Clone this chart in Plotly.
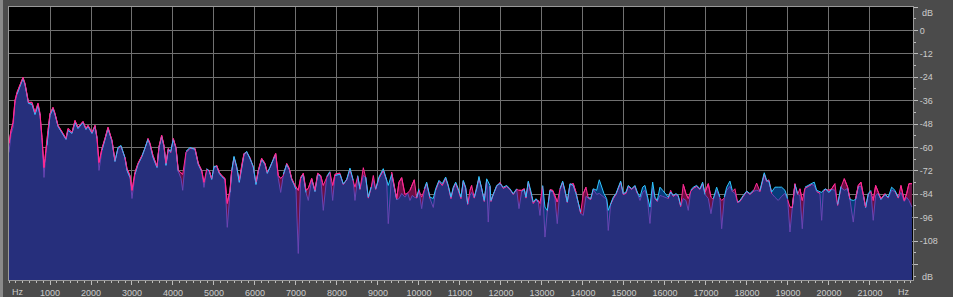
import numpy as np
import plotly.graph_objects as go

# Frequency (Hz) of each sampled spectrum point
freq_hz = [0, 49, 98, 146, 195, 268, 341, 390, 439, 475, 561, 634, 707, 756, 805, 829, 854, 878, 927, 951,
           1000, 1073, 1122, 1195, 1317, 1390, 1439, 1537, 1610, 1683, 1805, 1878, 1927, 2024, 2098, 2146, 2195,
           2268, 2341, 2415, 2512, 2585, 2659, 2732, 2829, 2878, 2951, 3000, 3073, 3146, 3244, 3317, 3390, 3439,
           3512, 3610, 3659, 3724, 3780, 3829, 3885, 3944, 4007, 4073, 4129, 4195, 4237, 4317, 4415, 4537, 4617,
           4700, 4756, 4822, 4885, 4944, 5000, 5066, 5129, 5188, 5268, 5324, 5390, 5432, 5488, 5554, 5617, 5676,
           5732, 5798, 5878, 5959, 6024, 6080, 6163, 6244, 6300, 6366, 6446, 6505, 6568, 6627, 6690, 6773, 6836,
           6895, 6951, 7000, 7056, 7115, 7178, 7244, 7300, 7383, 7463, 7529, 7602, 7666, 7749, 7829, 7895, 7951,
           8032, 8073, 8154, 8236, 8317, 8398, 8439, 8505, 8561, 8642, 8701, 8764, 8830, 8886, 8944, 9024, 9129,
           9212, 9251, 9334, 9397, 9456, 9512, 9578, 9658, 9724, 9780, 9837, 9885, 9944, 10000, 10066, 10129,
           10188, 10268, 10349, 10407, 10488, 10568, 10651, 10715, 10780, 10837, 10895, 10959, 11024, 11080,
           11139, 11188, 11244, 11285, 11349, 11407, 11463, 11529, 11593, 11651, 11690, 11732, 11756, 11812,
           11895, 11976, 12056, 12139, 12217, 12300, 12383, 12439, 12505, 12568, 12610, 12666, 12724, 12788,
           12854, 12910, 12951, 13017, 13073, 13129, 13195, 13261, 13317, 13373, 13439, 13505, 13561, 13617,
           13683, 13763, 13829, 13885, 13944, 14007, 14073, 14129, 14188, 14251, 14334, 14398, 14456, 14512,
           14578, 14617, 14676, 14739, 14805, 14861, 14920, 14983, 15049, 15105, 15188, 15268, 15324, 15390,
           15456, 15512, 15568, 15634, 15700, 15756, 15812, 15878, 15944, 16000, 16080, 16139, 16202, 16268,
           16324, 16383, 16446, 16512, 16568, 16627, 16690, 16773, 16854, 16919, 16976, 17057, 17122, 17178,
           17261, 17341, 17383, 17446, 17505, 17585, 17642, 17707, 17773, 17829, 17910, 17993, 18073, 18154,
           18236, 18317, 18422, 18480, 18536, 18602, 18683, 18763, 18846, 18927, 18993, 19049, 19105, 19170,
           19236, 19293, 19349, 19414, 19495, 19578, 19641, 19700, 19780, 19822, 19861, 19920, 20000, 20066,
           20146, 20212, 20293, 20373, 20456, 20512, 20593, 20651, 20715, 20780, 20837, 20895, 20959, 21024,
           21080, 21139, 21202, 21268, 21366, 21446, 21529, 21610, 21690, 21756, 21837, 21895, 21951, 22024]

# Left channel level (dB) - magenta
left_db = [-57.9, -51.3, -47.2, -35.9, -31.8, -28.2, -24.1, -27.2, -32.3, -36.9, -36.9, -42.1, -37.4, -42.6,
           -54.9, -65.6, -70.3, -65.6, -57.9, -51.3, -42.6, -39.5, -42.6, -48.7, -52.8, -55.4, -50.3, -52.3,
           -46.2, -49.7, -46.7, -50.3, -48.7, -52.3, -48.7, -54.9, -67.7, -60.5, -55.4, -49.7, -56.4, -66.7,
           -60.5, -59.5, -65.1, -70.8, -74.4, -82.0, -72.8, -68.2, -64.1, -60.5, -55.4, -57.9, -64.1, -69.7,
           -59.5, -53.8, -59.0, -68.2, -60.5, -62.6, -55.4, -60.0, -71.8, -72.8, -73.8, -62.6, -60.5, -60.5,
           -68.2, -71.8, -77.9, -71.3, -71.8, -75.9, -70.3, -69.2, -72.8, -74.4, -75.9, -88.7, -82.0, -71.8,
           -65.1, -70.3, -76.9, -69.2, -63.1, -62.6, -65.1, -70.3, -77.9, -71.8, -65.6, -68.2, -72.8, -70.3,
           -65.6, -63.1, -74.4, -75.9, -74.4, -68.2, -70.8, -75.9, -78.5, -80.5, -82.0, -75.4, -73.3, -82.0,
           -81.0, -75.9, -82.0, -73.3, -74.4, -79.5, -75.4, -72.8, -79.5, -73.8, -73.3, -73.2, -79.0, -76.7,
           -71.3, -77.4, -80.4, -74.9, -81.5, -70.4, -75.6, -86.0, -81.0, -74.4, -81.5, -75.9, -71.8, -76.9,
           -99.1, -72.7, -79.5, -86.3, -77.8, -75.5, -84.1, -83.4, -82.0, -78.6, -76.6, -86.0, -82.0, -85.5,
           -82.0, -78.5, -86.2, -90.8, -82.0, -77.4, -79.5, -75.9, -80.0, -86.2, -81.0, -78.5, -82.0, -86.2,
           -77.4, -81.0, -89.2, -82.0, -79.5, -86.0, -80.0, -75.9, -81.0, -87.7, -76.9, -98.3, -80.0, -87.7,
           -84.1, -80.0, -77.9, -81.0, -80.0, -81.5, -84.1, -81.5, -82.0, -82.0, -81.2, -86.0, -77.9, -82.6,
           -88.7, -86.7, -87.2, -88.7, -80.0, -106.0, -92.8, -81.7, -82.0, -84.6, -88.0, -81.5, -77.9, -82.6,
           -88.2, -79.0, -78.5, -82.9, -89.2, -93.8, -83.7, -80.4, -86.0, -86.7, -81.5, -84.1, -83.6, -84.6,
           -85.1, -86.7, -102.6, -89.2, -86.2, -84.1, -81.0, -77.9, -84.1, -83.6, -80.0, -81.5, -80.0, -83.6,
           -87.2, -83.1, -82.0, -85.6, -99.0, -81.0, -86.2, -87.7, -84.6, -85.1, -85.6, -86.2, -82.0, -85.1,
           -84.1, -85.1, -90.3, -79.0, -83.7, -86.2, -82.6, -81.0, -80.0, -81.5, -78.5, -83.1, -78.6, -85.5,
           -86.7, -82.0, -86.0, -87.2, -86.0, -82.0, -80.0, -82.6, -81.2, -88.2, -87.7, -85.1, -82.6, -84.1,
           -82.6, -78.3, -82.6, -73.8, -77.4, -76.6, -83.6, -85.6, -87.2, -85.1, -83.6, -86.7, -90.6, -90.8,
           -78.6, -84.1, -81.2, -87.2, -81.0, -80.0, -79.0, -79.5, -82.6, -83.6, -97.4, -82.6, -81.5, -82.0,
           -81.2, -78.6, -89.7, -80.5, -76.0, -80.4, -86.3, -98.3, -86.3, -79.5, -77.8, -83.7, -90.6, -84.1,
           -82.6, -87.2, -79.5, -82.9, -86.3, -83.7, -86.0, -82.0, -82.6, -86.0, -79.5, -87.2, -83.7, -78.6,
           -78.6]

# Right channel level (dB) - cyan
right_db = [-62.6, -53.3, -49.7, -37.4, -32.8, -28.7, -24.6, -27.7, -32.8, -37.4, -37.9, -43.1, -38.5, -43.6,
            -56.4, -68.2, -75.4, -68.2, -59.0, -52.3, -43.6, -40.0, -43.1, -49.2, -53.3, -55.9, -51.3, -52.8,
            -47.2, -50.3, -47.2, -50.8, -49.2, -52.8, -49.2, -55.4, -71.8, -61.5, -55.9, -50.3, -56.9, -67.2,
            -60.0, -59.0, -65.4, -71.8, -75.4, -86.2, -73.8, -68.7, -64.6, -60.0, -55.9, -58.5, -65.1, -70.3,
            -60.0, -54.4, -59.5, -69.2, -61.0, -62.0, -55.9, -60.5, -72.3, -75.9, -82.0, -62.0, -60.0, -61.0,
            -68.7, -72.3, -80.5, -70.8, -72.3, -76.4, -69.7, -69.7, -73.3, -74.9, -76.4, -101.0, -83.1, -72.3,
            -64.6, -69.7, -77.9, -69.7, -63.6, -62.0, -65.6, -69.7, -79.0, -72.3, -66.2, -68.7, -73.3, -69.7,
            -66.2, -63.6, -75.9, -83.1, -73.8, -68.7, -71.3, -76.4, -79.0, -81.5, -114.4, -75.9, -73.8, -83.1,
            -87.2, -76.4, -82.6, -73.8, -74.9, -92.3, -74.9, -72.3, -87.2, -74.4, -73.8, -73.8, -78.7, -76.4,
            -70.6, -76.9, -87.2, -74.4, -81.2, -74.4, -75.2, -85.5, -80.4, -76.9, -81.2, -75.2, -70.9, -76.1,
            -79.5, -73.8, -80.0, -86.7, -86.3, -83.6, -85.5, -82.9, -87.2, -84.6, -85.5, -85.5, -81.2, -91.4,
            -81.2, -77.8, -85.5, -86.2, -81.2, -76.9, -78.6, -75.2, -79.5, -85.5, -80.4, -77.8, -81.2, -85.5,
            -76.9, -80.4, -88.9, -84.6, -83.1, -85.5, -81.2, -74.9, -80.4, -87.2, -76.1, -77.9, -79.5, -87.2,
            -83.7, -79.5, -78.5, -80.4, -79.5, -81.2, -83.7, -81.2, -91.4, -82.6, -81.5, -85.5, -77.3, -82.0,
            -88.0, -86.3, -88.0, -94.9, -79.5, -90.6, -92.3, -82.0, -82.6, -86.3, -99.1, -81.2, -77.3, -82.0,
            -88.0, -78.6, -79.5, -83.6, -88.9, -93.2, -94.9, -85.1, -85.5, -86.3, -81.2, -82.0, -76.6, -80.4,
            -83.7, -86.3, -92.3, -88.9, -85.5, -83.7, -80.4, -77.3, -83.7, -82.9, -79.5, -81.2, -79.5, -82.9,
            -85.5, -80.4, -79.5, -84.6, -90.6, -77.8, -85.5, -87.2, -80.4, -82.0, -83.7, -85.5, -82.9, -84.6,
            -83.7, -84.6, -89.7, -86.2, -87.2, -92.3, -82.0, -80.4, -79.5, -81.2, -77.8, -84.1, -86.2, -94.0,
            -86.3, -80.4, -85.5, -101.7, -85.5, -80.4, -77.3, -82.0, -83.6, -88.0, -87.2, -84.6, -82.4, -83.7,
            -82.0, -82.0, -82.0, -73.0, -76.9, -77.4, -82.9, -80.4, -80.4, -80.4, -82.0, -86.3, -103.4, -91.1,
            -79.0, -83.7, -84.6, -101.7, -80.4, -79.5, -78.3, -77.8, -82.0, -82.9, -83.1, -82.0, -81.2, -83.1,
            -81.5, -82.0, -89.2, -80.0, -82.0, -81.0, -86.7, -87.2, -86.7, -80.0, -80.0, -84.1, -90.8, -83.7,
            -82.0, -97.4, -84.6, -83.6, -86.7, -84.1, -85.5, -80.4, -82.0, -85.5, -83.1, -87.7, -85.6, -87.2,
            -90.6]

# Axis labels
x_tick_vals = [1000 * k for k in range(1, 22)]
x_tick_text = [str(v) for v in x_tick_vals]
y_tick_vals = [12, 0, -12, -24, -36, -48, -60, -72, -84, -96, -108, -120]
y_tick_text = ["", "0", "-12", "-24", "-36", "-48", "-60", "-72", "-84", "-96", "-108", ""]
unit_x_text = "Hz"
unit_y_text = "dB"

Y_MIN, Y_MAX = -128, 12
X_MAX = 22050

f = np.array(freq_hz, dtype=float)
L = np.array(left_db, dtype=float)
R = np.array(right_db, dtype=float)
assert len(f) == len(L) == len(R), (len(f), len(L), len(R))
low = np.minimum(L, R)

# polygons closed down to the bottom of the axis
px = np.concatenate([f, [f[-1], f[0]]])
def poly(v):
    return np.concatenate([v, [Y_MIN, Y_MIN]])

thr = 1.2
L_top = np.where(L >= R - thr, L, np.nan)
R_top = np.where(R >= L - thr, R, np.nan)
L_over = np.where(L > R, L, np.nan)

fig = go.Figure()
fig.add_trace(go.Scatter(x=px, y=poly(L), fill="toself", fillcolor="#6c0f45",
                         mode="lines", line=dict(width=0), hoverinfo="skip", showlegend=False))
fig.add_trace(go.Scatter(x=px, y=poly(R), fill="toself", fillcolor="#073c7a",
                         mode="lines", line=dict(width=0), hoverinfo="skip", showlegend=False))
fig.add_trace(go.Scatter(x=px, y=poly(low), fill="toself", fillcolor="#262f7c",
                         mode="lines", line=dict(width=0), hoverinfo="skip", showlegend=False))
fig.add_trace(go.Scatter(x=f, y=low, mode="lines", line=dict(color="#6a45b4", width=1),
                         hoverinfo="skip", showlegend=False))
fig.add_trace(go.Scatter(x=f, y=L_top, mode="lines", line=dict(color="#ff2a93", width=1),
                         connectgaps=False, showlegend=False, name="L"))
fig.add_trace(go.Scatter(x=f, y=R_top, mode="lines", line=dict(color="#2ec6ff", width=1),
                         connectgaps=False, showlegend=False, name="R"))
fig.add_trace(go.Scatter(x=f, y=L_over, mode="lines", line=dict(color="#ff2a93", width=1),
                         connectgaps=False, showlegend=False, hoverinfo="skip"))

tick_font = dict(family="Liberation Sans, Arial, sans-serif", size=9, color="#cccccc")

fig.update_layout(
    width=953, height=297,
    margin=dict(l=9, r=40, t=7, b=17, autoexpand=False),
    paper_bgcolor="#4b4b4b",
    plot_bgcolor="#000000",
    showlegend=False,
    xaxis=dict(range=[0, X_MAX], tickmode="array", tickvals=x_tick_vals, ticktext=x_tick_text,
               automargin=False,
               showgrid=True, gridcolor="#707070", gridwidth=1, zeroline=False,
               ticks="outside", ticklen=4, tickcolor="#bdbdbd", tickfont=tick_font,
               minor=dict(tickmode="linear", tick0=0, dtick=1000 / 6, ticks="outside", ticklen=2,
                          tickcolor="#bdbdbd", showgrid=False),
               showline=True, linecolor="#9a9a9a", linewidth=1, mirror=True),
    yaxis=dict(range=[Y_MIN, Y_MAX], side="right", tickmode="array", tickvals=y_tick_vals,
               automargin=False,
               ticktext=y_tick_text, showgrid=True, gridcolor="#707070", gridwidth=1, zeroline=False,
               ticks="outside", ticklen=4, tickcolor="#bdbdbd", tickfont=tick_font,
               minor=dict(tickmode="linear", tick0=0, dtick=6, ticks="outside", ticklen=2,
                          tickcolor="#bdbdbd", showgrid=False),
               showline=True, linecolor="#9a9a9a", linewidth=1, mirror=True),
    annotations=[
        dict(text=unit_x_text, x=220, xref="x", y=0, yref="paper", yanchor="top", xanchor="center",
             yshift=-5, showarrow=False, font=tick_font),
        dict(text=unit_x_text, x=21840, xref="x", y=0, yref="paper", yanchor="top", xanchor="center",
             yshift=-5, showarrow=False, font=tick_font),
        dict(text=unit_y_text, x=1, xref="paper", xanchor="left", xshift=7, y=8.9, yref="y",
             yanchor="middle", showarrow=False, font=tick_font),
        dict(text=unit_y_text, x=1, xref="paper", xanchor="left", xshift=7, y=-126.5, yref="y",
             yanchor="middle", showarrow=False, font=tick_font),
    ],
    shapes=[
        dict(type="rect", xref="paper", yref="paper", x0=-9 / 904, x1=-6 / 904, y0=-17 / 273,
             y1=1 + 7 / 273, fillcolor="#8a8a8a", line=dict(width=0), layer="above"),
    ],
)

fig.write_html("out.html")
